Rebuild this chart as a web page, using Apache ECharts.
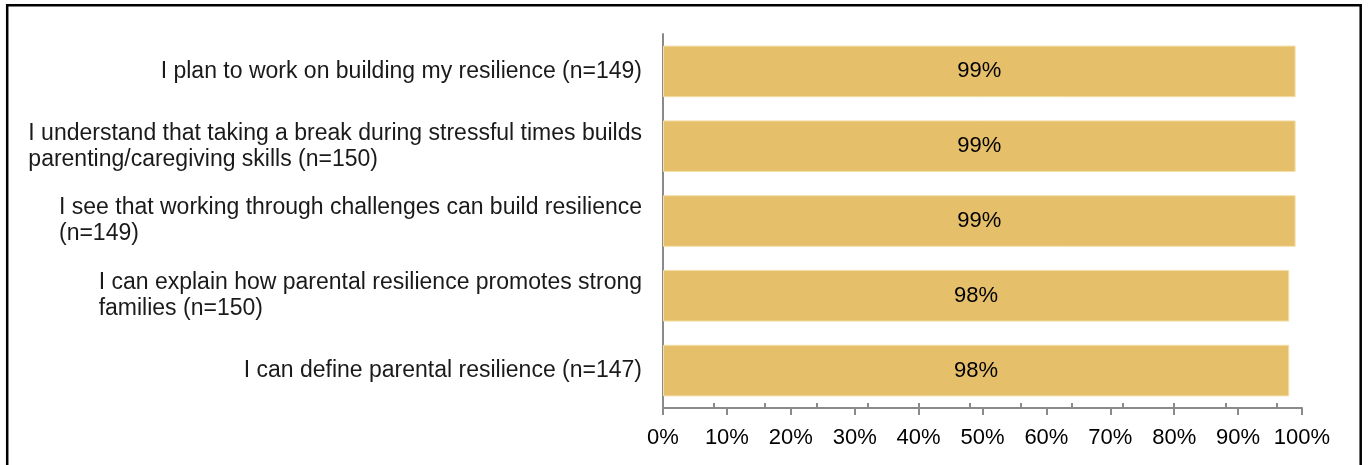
<!DOCTYPE html>
<html>
<head>
<meta charset="utf-8">
<title>Parental resilience</title>
<script src="https://cdn.jsdelivr.net/npm/echarts@6/dist/echarts.min.js"></script>
<style>
  html, body { margin: 0; padding: 0; background: #ffffff; }
  #chart { width: 1369px; height: 465px; }
</style>
</head>
<body>
<div id="chart"></div>
<script>
// Statements, top to bottom
const statements = [
  'I plan to work on building my resilience (n=149)',
  'I understand that taking a break during stressful times builds\nparenting/caregiving skills (n=150)',
  'I see that working through challenges can build resilience\n(n=149)',
  'I can explain how parental resilience promotes strong\nfamilies (n=150)',
  'I can define parental resilience (n=147)'
];
// Share agreeing, percent
const agreePct = [99, 99, 99, 98, 98];
// Secondary upward ticks along the value axis
const upperTickValues = [8, 16, 24, 32, 40, 48, 56, 64, 72, 80, 88, 96];

const FONT = "'Liberation Sans', Arial, sans-serif";
const AXIS_GREY = '#8a8a8a';

const chart = echarts.init(document.getElementById('chart'), null, { renderer: 'canvas' });

chart.setOption({
  backgroundColor: '#ffffff',
  animation: false,
  grid: { left: 663, right: 67, top: 34, bottom: 57, containLabel: false },
  xAxis: [
    {
      type: 'value',
      min: 0,
      max: 100,
      interval: 10,
      splitLine: { show: false },
      axisLine: { show: true, lineStyle: { color: AXIS_GREY, width: 2 } },
      axisTick: { show: true, inside: false, length: 7, lineStyle: { color: AXIS_GREY, width: 2 } },
      axisLabel: {
        formatter: '{value}%',
        color: '#000000',
        fontFamily: FONT,
        fontSize: 22,
        margin: 19
      }
    },
    {
      type: 'value',
      position: 'bottom',
      min: 0,
      max: 100,
      interval: 8,
      splitLine: { show: false },
      axisLine: { show: false },
      axisLabel: { show: false },
      axisTick: {
        show: true,
        inside: true,
        length: 5,
        customValues: upperTickValues,
        lineStyle: { color: AXIS_GREY, width: 2 }
      }
    }
  ],
  yAxis: {
    type: 'category',
    data: statements,
    inverse: true,
    axisLine: { show: true, lineStyle: { color: AXIS_GREY, width: 2 } },
    axisTick: { show: false },
    splitLine: { show: false },
    axisLabel: {
      margin: 21,
      align: 'right',
      formatter: function (value) {
        return value.split('\n').map(function (line) { return '{s|' + line + '}'; }).join('\n');
      },
      rich: {
        s: {
          align: 'left',
          color: '#1a1a1a',
          fontFamily: FONT,
          fontSize: 23,
          lineHeight: 26
        }
      }
    }
  },
  series: [
    {
      type: 'bar',
      xAxisIndex: 0,
      data: agreePct,
      barCategoryGap: '31%',
      itemStyle: { color: '#E5BF6A', borderColor: '#F3DFA8', borderWidth: 1 },
      label: {
        show: true,
        position: 'inside',
        formatter: '{c}%',
        color: '#000000',
        fontFamily: FONT,
        fontSize: 22
      }
    }
  ],
  graphic: [
    {
      type: 'rect',
      silent: true,
      shape: { x: 7.2, y: 5.2, width: 1353.5, height: 500 },
      style: { fill: 'none', stroke: '#000000', lineWidth: 2.5 }
    }
  ]
});
</script>
</body>
</html>
